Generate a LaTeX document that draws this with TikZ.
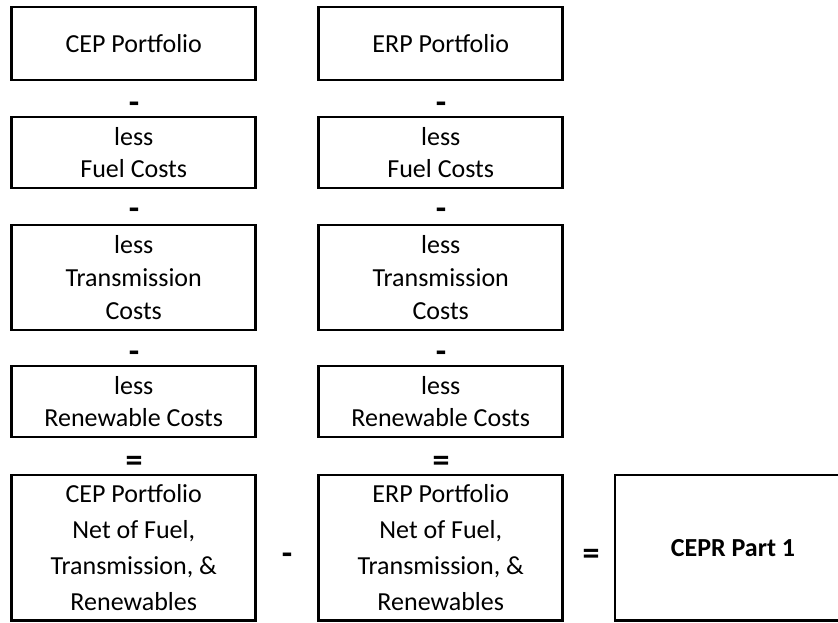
\documentclass[tikz,border=0pt]{standalone}
\usepackage{fontspec}
\setmainfont{Carlito}
\begin{document}
\begin{tikzpicture}[x=1pt,y=-1pt,
  box/.style={draw=black, line width=2.6pt, minimum width=244pt, align=center, inner sep=0pt},
  t2/.style={font=\fontsize{26}{32}\selectfont},
  t3/.style={font=\fontsize{26}{33}\selectfont},
  t4/.style={font=\fontsize{26}{36}\selectfont},
  op/.style={font=\fontsize{34}{34}\selectfont\bfseries, inner sep=0pt, anchor=base}]
\useasboundingbox (0,0) rectangle (838,622);
\clip (0,0) rectangle (838,622);
% column 1
\node[box, t2, minimum height=73pt] (cep) at (133.75,43.5) {CEP Portfolio};
\node[box, t2, minimum height=71pt] (cfuel) at (133.75,152.5) {less\\Fuel Costs};
\node[box, t3, minimum height=105pt] (ctrans) at (133.75,277.5) {less\\Transmission\\Costs};
\node[box, t2, minimum height=71pt] (cren) at (133.75,401.5) {less\\Renewable Costs};
\node[box, t4, minimum height=145.5pt] (cnet) at (133.75,547.75) {CEP Portfolio\\Net of Fuel,\\Transmission, \&\\Renewables};
% column 2
\node[box, t2, minimum height=73pt] (erp) at (440.75,43.5) {ERP Portfolio};
\node[box, t2, minimum height=71pt] (efuel) at (440.75,152.5) {less\\Fuel Costs};
\node[box, t3, minimum height=105pt] (etrans) at (440.75,277.5) {less\\Transmission\\Costs};
\node[box, t2, minimum height=71pt] (eren) at (440.75,401.5) {less\\Renewable Costs};
\node[box, t4, minimum height=145.5pt] (enet) at (440.75,547.75) {ERP Portfolio\\Net of Fuel,\\Transmission, \&\\Renewables};
% result
\node[box, font=\fontsize{26}{32}\selectfont\bfseries, minimum width=236pt, minimum height=145.5pt] (cepr) at (733,547.75) {CEPR Part 1};
% operators
\node[op] (o1a) at (134,113.5) {-};
\node[op] (o2a) at (134,219.5) {-};
\node[op] (o3a) at (134,362) {-};
\node[op] (o4a) at (134,471) {=};
\node[op] (o1b) at (441,113.5) {-};
\node[op] (o2b) at (441,219.5) {-};
\node[op] (o3b) at (441,362) {-};
\node[op] (o4b) at (441,471) {=};
\node[op] (om) at (287,564) {-};
\node[op] (oe) at (591,564) {=};
\end{tikzpicture}
\end{document}
